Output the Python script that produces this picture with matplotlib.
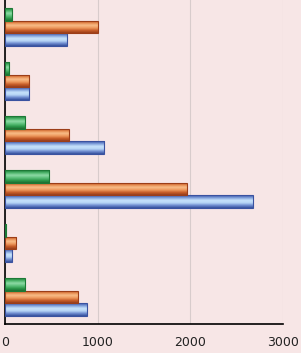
import matplotlib
matplotlib.use("Agg")
import matplotlib.pyplot as plt
import numpy as np
from matplotlib.colors import LinearSegmentedColormap

categories = ["A", "B", "C", "D", "E", "F"]  # bottom to top
series_blue = [880, 75, 2675, 1070, 260, 670]
series_orange = [785, 120, 1960, 690, 260, 1000]
series_green = [215, 15, 475, 215, 45, 75]
xticks = [0, 1000, 2000, 3000]

bg = "#F7E6E6"
fig = plt.figure(figsize=(3.01, 3.53), dpi=100, facecolor=bg)
ax = fig.add_axes([5/301, 29/353, 278/301, 324/353], facecolor=bg)

grads = {
    "blue": ["#3A56A8", "#7E9EDA", "#C6E2FB", "#B8D6F6", "#6F8CD0", "#34509C"],
    "orange": ["#A8431A", "#E28448", "#F8BC88", "#EE9A5E", "#C85E2A", "#9C3E18"],
    "green": ["#1C7A36", "#4CB46A", "#8EDAA6", "#5CC07A", "#2E9A4C", "#187032"],
}
edges = {"blue": "#3A52A0", "orange": "#9C3E18", "green": "#1C7A36"}

h = 0.24
y = np.arange(len(categories))
series = [("blue", series_blue, -h), ("orange", series_orange, 0), ("green", series_green, h)]
ax.set_xlim(0, 3000)
ax.set_ylim(-0.5, len(categories) - 0.5)
for name, vals, off in series:
    cmap = LinearSegmentedColormap.from_list(name, grads[name])
    bars = ax.barh(y + off, vals, height=h, color="none", edgecolor=edges[name], linewidth=0.8, zorder=3)
    grad = np.linspace(1, 0, 64).reshape(-1, 1)
    for b in bars:
        x0, y0 = b.get_x(), b.get_y()
        w, hh = b.get_width(), b.get_height()
        im = ax.imshow(grad, cmap=cmap, aspect="auto", extent=[x0, x0 + w, y0, y0 + hh],
                       origin="lower", zorder=2, interpolation="bilinear")
        im.set_clip_path(b)
ax.set_xlim(0, 3000)
ax.set_ylim(-0.5, len(categories) - 0.5)

ax.set_xticks(xticks)
ax.set_xticklabels([str(t) for t in xticks], fontsize=9, color="#222222")
ax.set_yticks([])
ax.tick_params(axis="x", length=0, pad=9)
ax.grid(axis="x", color="#D8CCCC", linewidth=0.8, zorder=0)
ax.set_axisbelow(True)
for s in ["top", "right"]:
    ax.spines[s].set_visible(False)
ax.spines["left"].set_color("black")
ax.spines["bottom"].set_color("black")
ax.spines["left"].set_linewidth(1.2)
ax.spines["bottom"].set_linewidth(1.2)

fig.savefig("out.png", dpi=100, facecolor=bg)
